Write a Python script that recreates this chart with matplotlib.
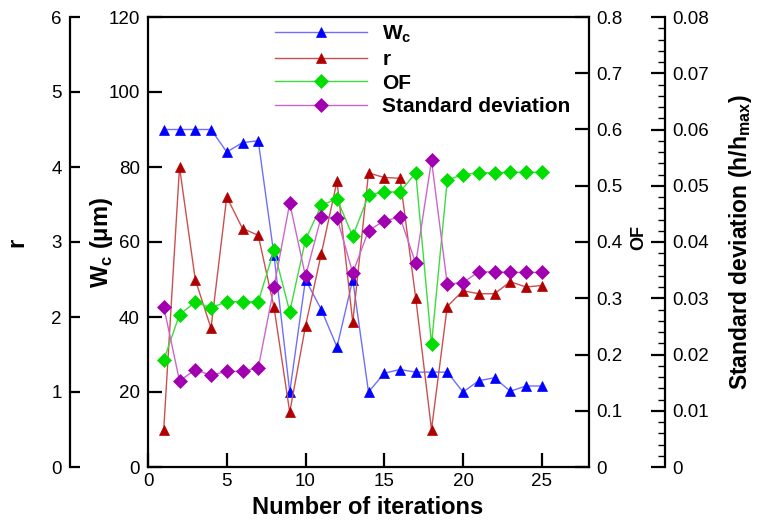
import numpy as np
import matplotlib
matplotlib.use("Agg")
import matplotlib.pyplot as plt
from matplotlib.ticker import MultipleLocator

plt.rcParams["font.family"] = ["Liberation Sans", "DejaVu Sans"]
plt.rcParams["mathtext.fontset"] = "custom"
plt.rcParams["mathtext.rm"] = "Liberation Sans"
plt.rcParams["mathtext.bf"] = "Liberation Sans:bold"

# data
iterations = np.arange(1, 26)
wc = [90, 90, 90, 90, 84, 86.5, 87, 56.5, 20, 50, 42, 32, 50, 20, 25,
      26, 25.3, 25.3, 25.3, 20, 23, 23.8, 20.2, 21.6, 21.6]
r_vals = [0.5, 4.0, 2.5, 1.85, 3.6, 3.18, 3.09, 2.13, 0.73, 1.88, 2.84, 3.81,
          1.93, 3.92, 3.86, 3.85, 2.25, 0.5, 2.14, 2.35, 2.31, 2.31, 2.47, 2.4, 2.42]
of_vals = [0.19, 0.271, 0.293, 0.283, 0.294, 0.294, 0.294, 0.385, 0.276, 0.404,
           0.465, 0.477, 0.41, 0.483, 0.489, 0.489, 0.523, 0.218, 0.51, 0.52,
           0.523, 0.523, 0.524, 0.524, 0.524]
std_vals = [0.0285, 0.0153, 0.0173, 0.0163, 0.017, 0.017, 0.0176, 0.032, 0.0469,
            0.0339, 0.0445, 0.0443, 0.0345, 0.042, 0.0438, 0.0444, 0.0362, 0.0545,
            0.0325, 0.0328, 0.0347, 0.0347, 0.0346, 0.0346, 0.0346]

fig = plt.figure(figsize=(7.57, 5.22), dpi=100)
ax = fig.add_axes([148 / 757, 55 / 522, 441 / 757, 450 / 522])
ax_r = ax.twinx()
ax_of = ax.twinx()
ax_sd = ax.twinx()

lw_sp = 1.6
tick_fs = 13.5
tri = dict(marker="^", ms=7, mew=0.5)
dia = dict(marker="D", ms=7, mew=0.5)

# Wc on main axis
l1, = ax.plot(iterations, wc, color="#6f6fff", lw=1.0, mfc="#0000ff", mec="#0000ff",
              label="W$_\\mathregular{c}$", **tri)
ax.set_xlim(0, 28)
ax.set_ylim(0, 120)
ax.set_xticks([0, 5, 10, 15, 20, 25])
ax.set_yticks(np.arange(0, 121, 20))
ax.tick_params(axis="both", direction="in", length=10, width=lw_sp, labelsize=tick_fs)
ax.tick_params(axis="y", pad=6)
ax.tick_params(axis="x", pad=4)
ax.set_xlabel("Number of iterations", fontsize=17, fontweight="bold")
ax.xaxis.set_label_coords(0.499, -0.065)
ax.set_ylabel("W$_\\mathregular{c}$ (\u03bcm)", fontsize=17, fontweight="bold")
ax.yaxis.set_label_coords(-0.075, 0.5)

# r on an outer left axis
l2, = ax_r.plot(iterations, r_vals, color="#cc5050", lw=1.0, mfc="#b00000", mec="#b00000",
                label="r", **tri)
ax_r.set_ylim(0, 6)
ax_r.yaxis.set_ticks_position("left")
ax_r.yaxis.set_label_position("left")
ax_r.spines["left"].set_position(("axes", -78 / 441))
ax_r.spines["left"].set_visible(True)
ax_r.spines["right"].set_visible(False)
ax_r.tick_params(axis="y", direction="in", length=7, width=lw_sp, labelsize=tick_fs, pad=6)
ax_r.set_ylabel("r", fontsize=17, fontweight="bold")
ax_r.yaxis.set_label_coords(-0.272, 0.5)

# OF on the right spine
l3, = ax_of.plot(iterations, of_vals, color="#3ddc3d", lw=1.0, mfc="#00dd00", mec="#00dd00",
                 label="OF", **dia)
ax_of.set_ylim(0, 0.8)
ax_of.set_yticks(np.arange(0, 0.81, 0.1))
ax_of.set_yticklabels(["0"] + [f"{v:.1f}" for v in np.arange(0.1, 0.81, 0.1)])
ax_of.tick_params(axis="y", direction="in", length=10, width=lw_sp, labelsize=tick_fs, pad=5)
ax_of.set_ylabel("OF", fontsize=13, fontweight="bold")
ax_of.yaxis.set_label_coords(1.093, 0.51)

# Standard deviation on an outer right axis
l4, = ax_sd.plot(iterations, std_vals, color="#cc66cc", lw=1.0, mfc="#a000b0", mec="#a000b0",
                 label="Standard deviation", **dia)
ax_sd.set_ylim(0, 0.08)
ax_sd.set_yticks(np.arange(0, 0.081, 0.01))
ax_sd.set_yticklabels(["0"] + [f"{v:.2f}" for v in np.arange(0.01, 0.081, 0.01)])
ax_sd.yaxis.set_minor_locator(MultipleLocator(0.002))
ax_sd.spines["right"].set_position(("axes", 517 / 441))
ax_sd.tick_params(axis="y", which="major", direction="in", length=10, width=lw_sp,
                  labelsize=tick_fs, pad=5)
ax_sd.tick_params(axis="y", which="minor", direction="in", length=5, width=1.0)
ax_sd.set_ylabel("Standard deviation (h/h$_\\mathregular{max}$)", fontsize=16.5,
                 fontweight="bold")
ax_sd.yaxis.set_label_coords(1.313, 0.5)

for a in (ax, ax_r, ax_of, ax_sd):
    for s in a.spines.values():
        s.set_linewidth(lw_sp)
for a in (ax_r, ax_of, ax_sd):
    a.spines["top"].set_visible(False)
    a.spines["bottom"].set_visible(False)
ax_of.spines["left"].set_visible(False)
ax_sd.spines["left"].set_visible(False)
ax.spines["right"].set_visible(False)
ax.tick_params(axis="x", top=False)

leg = ax_sd.legend(handles=[l1, l2, l3, l4], loc="upper left",
                   bbox_to_anchor=(0.288, 0.985), frameon=False, borderpad=0,
                   borderaxespad=0, handlelength=4.4, handletextpad=0.75,
                   labelspacing=0.22, prop={"size": 15, "weight": "bold"})

fig.savefig("out.png", dpi=100)
